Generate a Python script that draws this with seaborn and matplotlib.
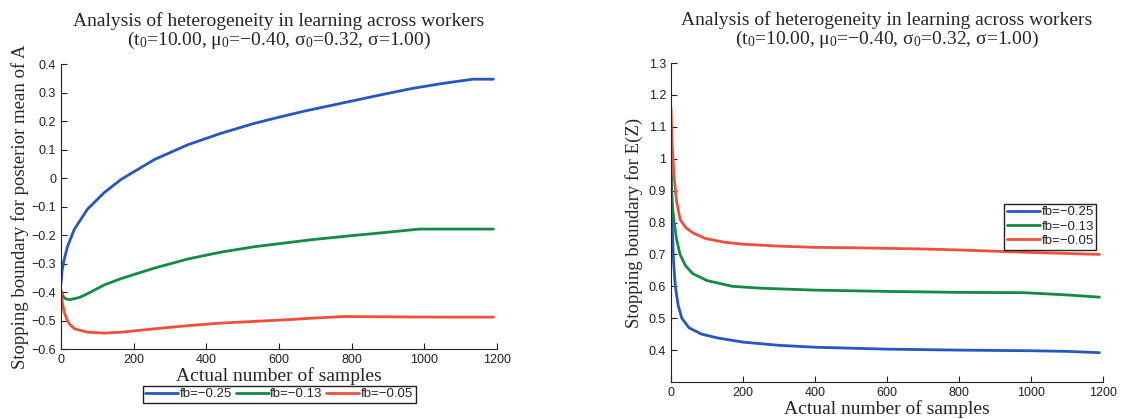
import pandas as pd
import matplotlib
matplotlib.use('Agg')
import matplotlib.pyplot as plt
import seaborn as sns

# left panel: stopping boundary for posterior mean of A
x_blue_a = [0, 3, 8, 18, 37, 73, 119, 165, 257, 349, 440, 532, 601, 670, 784, 880, 968, 1050, 1133, 1190]
y_blue_a = [-0.37, -0.325, -0.29, -0.24, -0.179, -0.109, -0.051, -0.005, 0.065, 0.117, 0.157, 0.192,
            0.214, 0.235, 0.266, 0.292, 0.315, 0.332, 0.347, 0.347]
x_green_a = [0, 5, 10, 23, 51, 73, 119, 165, 257, 349, 440, 532, 692, 800, 900, 986, 1100, 1190]
y_green_a = [-0.395, -0.412, -0.422, -0.427, -0.419, -0.406, -0.375, -0.353, -0.316, -0.284, -0.26,
             -0.241, -0.216, -0.202, -0.19, -0.179, -0.179, -0.179]
x_red_a = [0, 4, 9, 16, 23, 37, 73, 119, 165, 257, 349, 440, 532, 624, 700, 780, 900, 1050, 1190]
y_red_a = [-0.395, -0.44, -0.471, -0.495, -0.512, -0.529, -0.541, -0.544, -0.541, -0.529, -0.518,
           -0.509, -0.503, -0.497, -0.491, -0.486, -0.487, -0.488, -0.488]

# right panel: stopping boundary for E(Z)
x_blue_z = [0, 3, 7, 12, 20, 30, 50, 85, 130, 200, 300, 400, 600, 800, 1000, 1100, 1190]
y_blue_z = [0.97, 0.80, 0.68, 0.60, 0.54, 0.50, 0.47, 0.45, 0.438, 0.425, 0.415, 0.409, 0.403,
            0.400, 0.398, 0.396, 0.392]
x_green_z = [0, 2, 5, 9, 15, 25, 40, 60, 100, 170, 250, 400, 600, 800, 980, 1100, 1190]
y_green_z = [1.0, 0.90, 0.84, 0.80, 0.75, 0.70, 0.665, 0.64, 0.618, 0.60, 0.594, 0.588, 0.584,
             0.581, 0.580, 0.573, 0.566]
x_red_z = [0, 3, 8, 15, 25, 40, 60, 95, 150, 200, 300, 400, 500, 600, 700, 800, 900, 1000, 1100, 1190]
y_red_z = [1.16, 1.05, 0.95, 0.87, 0.81, 0.785, 0.768, 0.75, 0.738, 0.732, 0.726, 0.722, 0.721,
           0.719, 0.717, 0.714, 0.71, 0.706, 0.703, 0.700]

labels = ['fb=\u22120.25', 'fb=\u22120.13', 'fb=\u22120.05']
colors = ['#2457c5', '#138a45', '#f0503a']

title = ('Analysis of heterogeneity in learning across workers\n'
         '(t$_0$=10.00, \u03bc$_0$=\u22120.40, \u03c3$_0$=0.32, \u03c3=1.00)')

sns.set_style('ticks')
plt.rcParams['font.family'] = ['Liberation Sans', 'DejaVu Sans']
plt.rcParams['mathtext.fontset'] = 'custom'
plt.rcParams['mathtext.rm'] = 'Liberation Serif'
plt.rcParams['mathtext.it'] = 'Liberation Serif'
plt.rcParams['axes.unicode_minus'] = True

serif = ['Liberation Serif', 'DejaVu Serif']

fig = plt.figure(figsize=(11.23, 4.19), dpi=100)
ax1 = fig.add_axes([0.0543, 0.167, 0.3883, 0.680])
ax2 = fig.add_axes([0.5975, 0.0883, 0.3847, 0.7613])

left = [(x_blue_a, y_blue_a), (x_green_a, y_green_a), (x_red_a, y_red_a)]
right = [(x_blue_z, y_blue_z), (x_green_z, y_green_z), (x_red_z, y_red_z)]

for (xs, ys), lab, c in zip(left, labels, colors):
    df = pd.DataFrame({'x': xs, 'y': ys})
    sns.lineplot(data=df, x='x', y='y', ax=ax1, color=c, lw=2, label=lab)
for (xs, ys), lab, c in zip(right, labels, colors):
    df = pd.DataFrame({'x': xs, 'y': ys})
    sns.lineplot(data=df, x='x', y='y', ax=ax2, color=c, lw=2, label=lab)

ax1.set_xlim(0, 1200)
ax1.set_ylim(-0.6, 0.4)
ax1.set_yticks([-0.6, -0.5, -0.4, -0.3, -0.2, -0.1, 0, 0.1, 0.2, 0.3, 0.4])
ax1.set_yticklabels(['\u22120.6', '\u22120.5', '\u22120.4', '\u22120.3', '\u22120.2', '\u22120.1',
                     '0', '0.1', '0.2', '0.3', '0.4'])
ax2.set_xlim(0, 1200)
ax2.set_ylim(0.3, 1.3)
ax2.set_yticks([0.4, 0.5, 0.6, 0.7, 0.8, 0.9, 1.0, 1.1, 1.2, 1.3])
ax2.set_yticklabels(['0.4', '0.5', '0.6', '0.7', '0.8', '0.9', '1', '1.1', '1.2', '1.3'])

for ax in (ax1, ax2):
    ax.set_xticks([0, 200, 400, 600, 800, 1000, 1200])
    ax.tick_params(direction='in', labelsize=9, length=4, width=0.8, colors='#222222')
    ax.set_xlabel('Actual number of samples', fontsize=14, family=serif, labelpad=1)
    ax.set_title(title, fontsize=14, family=serif, pad=14, linespacing=0.95)
    sns.despine(ax=ax)
    for s in ('left', 'bottom'):
        ax.spines[s].set_color('#222222')

ax1.set_ylabel('Stopping boundary for posterior mean of A', fontsize=13.5, family=serif, labelpad=2)
ax2.set_ylabel('Stopping boundary for E(Z)', fontsize=13.5, family=serif, labelpad=4)

leg1 = ax1.legend(loc='upper center', bbox_to_anchor=(0.5, -0.105), ncol=3, fontsize=9.5,
                  frameon=True, fancybox=False, edgecolor='#222222', handlelength=2.5,
                  handletextpad=0.1, columnspacing=0.3, borderpad=0.2)
leg2 = ax2.legend(loc='upper right', bbox_to_anchor=(1.0, 0.58), fontsize=9.5,
                  frameon=True, fancybox=False, edgecolor='#222222', handlelength=2.5,
                  handletextpad=0.1, borderpad=0.2, labelspacing=0.15)
for leg in (leg1, leg2):
    leg.get_frame().set_linewidth(1.0)
    leg.get_frame().set_alpha(1)

fig.savefig('out.png', dpi=100)
